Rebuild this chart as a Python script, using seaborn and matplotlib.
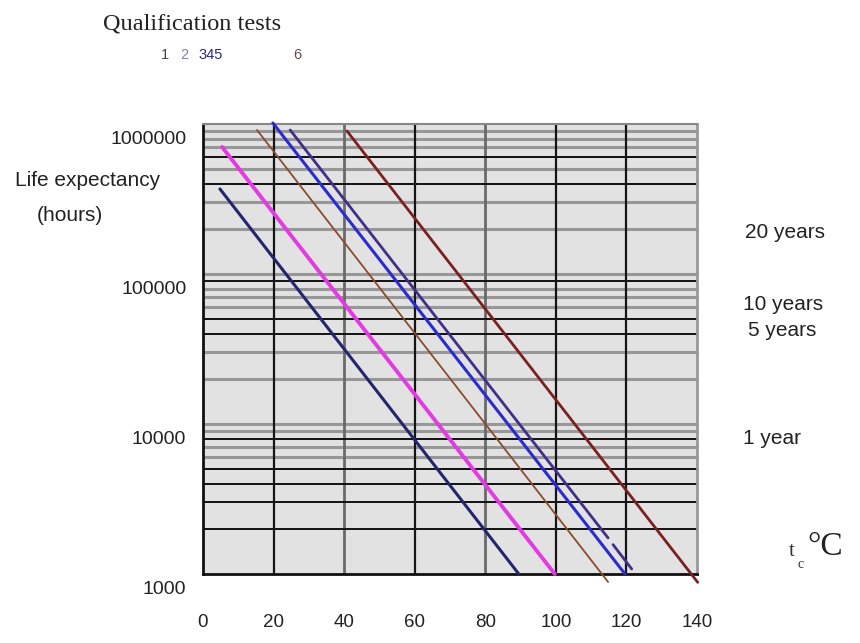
import numpy as np
import pandas as pd
import seaborn as sns
import matplotlib.pyplot as plt
from matplotlib.transforms import ScaledTranslation

# life expectancy lines (temperature in degC, life in hours), one per qualification test
test_names = ["1", "2", "3", "4", "5", "6"]
temps_1 = [4.8, 89.5]
hours_1 = [369000, 1000]
temps_2 = [5.4, 99.7]
hours_2 = [703000, 1000]
temps_3 = [15.3, 114.8]
hours_3 = [912000, 885]
temps_4 = [19.8, 119.6]
hours_4 = [1016000, 1000]
temps_5 = [24.7, 114.8, np.nan, 116.2, 121.5]
hours_5 = [912000, 1740, np.nan, 1570, 1080]
temps_6 = [40.8, 140.2]
hours_6 = [898000, 880]

x_ticks = [0, 20, 40, 60, 80, 100, 120, 140]
y_ticks = [1000, 10000, 100000, 1000000]
y_ticklabels = ["1000", "10000", "100000", "1000000"]

# grid levels (hours) as printed on the chart
black_levels = [2000, 3000, 4000, 5000, 8000, 40000, 50000, 90000, 400000, 600000]
gray_levels = [6000, 7000, 9000, 10000, 20000, 30000, 60000, 70000, 80000,
               100000, 200000, 300000, 500000, 700000, 800000, 900000]
black_vlines = [20, 60, 100, 120]
gray_vlines = [40, 80]

year_labels = ["20 years", "10 years", "5 years", "1 year"]

colors = ["#25256e", "#e23be2", "#8a4b2e", "#2b2bd0", "#40308a", "#7b2020"]
widths = [2.2, 2.8, 1.3, 2.2, 2.0, 2.0]

sns.set_style("white")
plt.rcParams['font.family'] = ['Liberation Sans', 'DejaVu Sans']

fig = plt.figure(figsize=(8.6, 6.43), dpi=100)
ax = fig.add_axes([203/860, 1 - 574/643, (697-203)/860, (574-124)/643])
ax.set_facecolor("#e2e2e2")

for lev in gray_levels:
    ax.axhline(lev, color="#979797", lw=2.2, zorder=1)
for lev in black_levels:
    ax.axhline(lev, color="#111111", lw=1.4, zorder=1.2)
for v in gray_vlines:
    ax.axvline(v, color="#6a6a6a", lw=2.0, zorder=1.1)
for v in black_vlines:
    ax.axvline(v, color="#151515", lw=1.6, zorder=1.2)

all_t = [temps_1, temps_2, temps_3, temps_4, temps_5, temps_6]
all_h = [hours_1, hours_2, hours_3, hours_4, hours_5, hours_6]
for name, t, h, c, w in zip(test_names, all_t, all_h, colors, widths):
    df = pd.DataFrame({"temp": t, "hours": h})
    # split at NaN so gaps stay gaps
    df["seg"] = df["temp"].isna().cumsum()
    df = df.dropna()
    sns.lineplot(data=df, x="temp", y="hours", units="seg", estimator=None,
                 sort=False, color=c, lw=w, ax=ax, zorder=3, clip_on=False)

ax.set_yscale("log")
ax.set_xlim(0, 140)
ax.set_ylim(1000, 1000000)
ax.set_xlabel("")
ax.set_ylabel("")
ax.set_xticks(x_ticks)
ax.set_xticklabels([str(v) for v in x_ticks], fontsize=13.5, color="#222222")
ax.set_yticks(y_ticks)
ax.set_yticklabels(y_ticklabels, fontsize=14, color="#222222")
ax.yaxis.set_minor_locator(plt.NullLocator())
ax.tick_params(axis="x", length=0, pad=29)
ax.tick_params(axis="y", length=0, pad=12)
for lab in ax.get_yticklabels():
    lab.set_transform(lab.get_transform() + ScaledTranslation(0, -10/72, fig.dpi_scale_trans))

for side in ["left", "bottom"]:
    ax.spines[side].set_color("#111111")
    ax.spines[side].set_linewidth(2.0)
ax.spines["top"].set_color("#888888")
ax.spines["top"].set_linewidth(1.5)
ax.spines["right"].set_color("#999999")
ax.spines["right"].set_linewidth(2.0)

def ft(x, y, s, **kw):
    fig.text(x/860, 1 - y/643, s, **kw)

ft(15, 181, "Life expectancy", fontsize=15, va="center", ha="left", color="#222222")
ft(70, 216, "(hours)", fontsize=15, va="center", ha="center", color="#222222")

ft(745, 233, year_labels[0], fontsize=15, va="center", color="#222222")
ft(743, 305, year_labels[1], fontsize=15, va="center", color="#222222")
ft(748, 330, year_labels[2], fontsize=15, va="center", color="#222222")
ft(743, 439, year_labels[3], fontsize=15, va="center", color="#222222")

ft(789, 552, "t", fontsize=15, family="Liberation Serif", va="center", color="#333333")
ft(797, 564, "c", fontsize=10, family="Liberation Serif", va="center", color="#333333")
ft(807, 547, "°C", fontsize=24, family="Liberation Serif", va="center", color="#222222")

ft(103, 24, "Qualification tests", fontsize=17.5, family="Liberation Serif",
   va="center", color="#222222")
ft(165, 55, "1", fontsize=10.5, va="center", ha="center", color="#444444")
ft(184, 55, "2", fontsize=10.5, va="center", ha="center", color="#8a7ad0")
ft(211, 55, "345", fontsize=10.5, va="center", ha="center", color="#2a2a80")
ft(297, 55, "6", fontsize=10.5, va="center", ha="center", color="#6a4a4a")

fig.savefig("out.png", dpi=100)
